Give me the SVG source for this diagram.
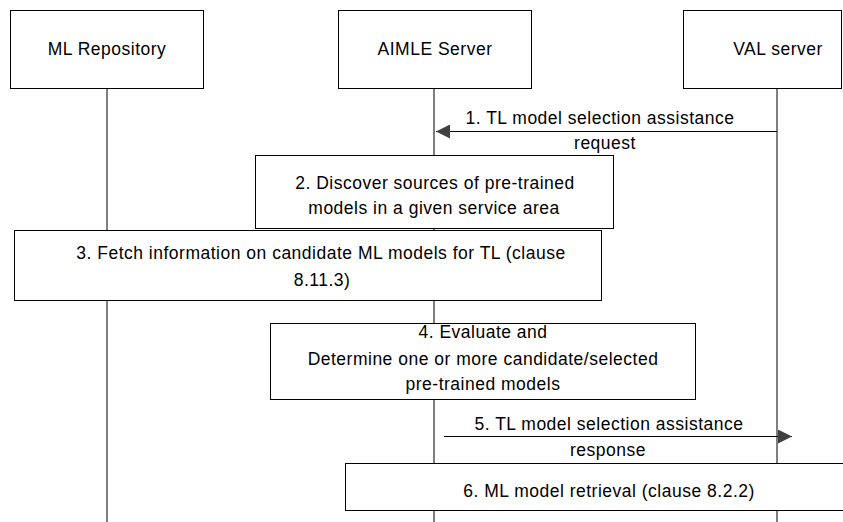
<svg xmlns="http://www.w3.org/2000/svg" width="843" height="522" viewBox="0 0 843 522">
<defs>
<style>
text{font-family:"Liberation Sans",Arial,sans-serif;font-size:17.5px;letter-spacing:0.5px;fill:#000;text-anchor:middle}
.box{fill:#fff;stroke:#000;stroke-width:1}
.life{stroke:#000;stroke-width:1}
.msg{stroke:#000;stroke-width:1;fill:none}
</style>
<marker id="ah" viewBox="0 0 10 10" refX="10" refY="5" markerWidth="20" markerHeight="14" markerUnits="userSpaceOnUse" orient="auto">
<path d="M0,0 L10,5 L0,10 z" fill="#404040"/>
</marker>
</defs>
<g id="lifelines">
<line class="life" x1="107" y1="88" x2="107" y2="522"/>
<line class="life" x1="434" y1="88" x2="434" y2="522"/>
<line class="life" x1="777" y1="88" x2="777" y2="522"/>
</g>
<g id="ml-repository"><rect class="box" x="10.5" y="10.5" width="193" height="78"/><text x="107" y="55">ML Repository</text></g>
<g id="aimle-server"><rect class="box" x="338.5" y="10.5" width="193" height="78"/><text x="435" y="55">AIMLE  Server</text></g>
<g id="val-server"><rect class="box" x="683.5" y="10.5" width="158" height="78"/><text x="778" y="55">VAL server</text></g>
<g id="connectors">
<line class="msg" x1="777" y1="131.5" x2="436" y2="131.5" marker-end="url(#ah)"/>
<line class="msg" x1="444" y1="436.5" x2="792" y2="436.5" marker-end="url(#ah)"/>
</g>
<g id="label1"><text x="600" y="124">1. TL model selection assistance</text><text x="605" y="149">request</text></g>
<g id="step2"><rect class="box" x="255.5" y="155.5" width="358" height="73"/><text x="435" y="189">2. Discover sources of pre-trained</text><text x="434" y="214">models in a given service area</text></g>
<g id="step3"><rect class="box" x="14.5" y="230.5" width="587" height="70"/><text x="321" y="259">3. Fetch information on candidate ML models for TL (clause</text><text x="322" y="286">8.11.3)</text></g>
<g id="step4"><rect class="box" x="270.5" y="323.5" width="425" height="76"/><text x="483" y="338">4. Evaluate and</text><text x="483" y="365">Determine one or more candidate/selected</text><text x="483" y="390">pre-trained models</text></g>
<g id="label5"><text x="609" y="430">5. TL model selection assistance</text><text x="608" y="456">response</text></g>
<g id="step6"><rect class="box" x="345.5" y="463.5" width="500" height="47"/><text x="609" y="497">6. ML model retrieval (clause 8.2.2)</text></g>
</svg>
